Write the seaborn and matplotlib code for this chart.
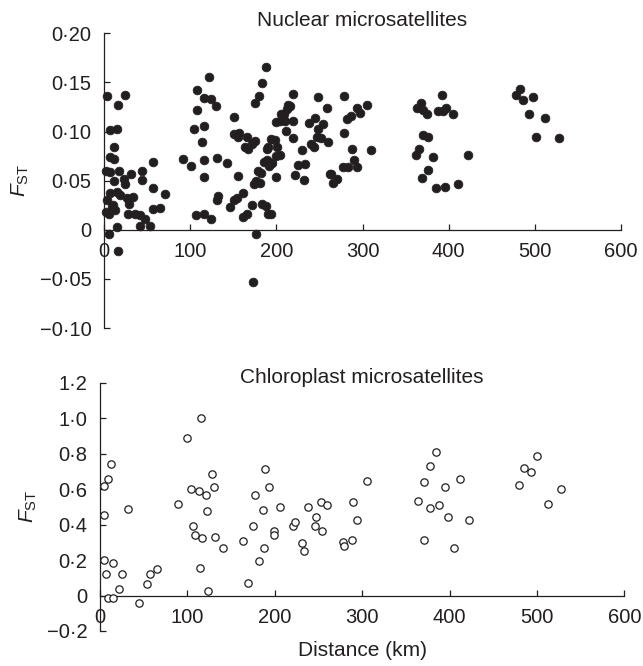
import pandas as pd
import seaborn as sns
import matplotlib.pyplot as plt
from matplotlib.ticker import FuncFormatter

# nuclear microsatellites: pairwise distance (km) vs Fst
nuc_dist = [3.9, 16.6, 24.4, 7, 14.7, 11.6, 2.3, 7, 11.6, 7, 11.6, 17.8, 23, 31, 24.4,
            43.7, 43.7, 57, 57, 70.8, 7, 14.7, 18.6, 26.3, 33.3, 29.4, 3.9, 8.9, 12.8,
            2.3, 6.2, 10.8, 28.2, 36, 41.8, 47.6, 57, 65, 14.7, 41.8, 53.4, 5.8, 16.6,
            91.3, 100.6, 104.8, 108.3, 108.3, 116, 113.3, 116, 116, 106.8, 116, 123.8,
            121.9, 116, 123.8, 130, 131.5, 132.7, 131.5, 142.4, 146.2, 150.9, 154.7,
            150.9, 157.1, 156, 151.3, 156, 161.7, 160.9, 165.6, 166.4, 163.7, 167.5,
            172.2, 175.2, 171.4, 174.1, 176.4, 179.1, 181.8, 175.2, 179.9, 183, 187.6,
            176.4, 173.3, 181, 183, 187.6, 190, 193.4, 185.7, 188.8, 191.9, 194.6,
            188.8, 190.7, 193.4, 198.5, 200.4, 199.6, 204.3, 199.6, 199.6, 204.3,
            205.1, 209, 212.1, 213.2, 216, 219, 210.5, 211.7, 219, 219.8, 221.7, 224.8,
            233.3, 230.2, 232.1, 238.3, 244.9, 248.8, 258.5, 239.8, 243.7, 246.8,
            248.8, 251.5, 253.8, 260.4, 262.3,
            278.5, 278.5, 281.6, 286.6, 294, 297.1, 305.6, 288.2, 309.9, 290.1, 293.2,
            277, 283.5, 263.4, 266.1, 270.8,
            362.9, 367.5, 370.6, 375.2, 392.6, 388, 396.9, 394, 404.6, 370.6, 376.4,
            365.6, 361.7, 381.5, 422.1, 376.4, 369.4, 384.9, 395.7, 411.2,
            482.8, 477.8, 485.9, 498.2, 493.6, 512.2, 501.3, 527.6]
nuc_fst = [0.136, 0.127, 0.137, 0.102, 0.103, 0.084, 0.060, 0.059, 0.072, 0.074, 0.050,
           0.060, 0.052, 0.057, 0.047, 0.060, 0.051, 0.069, 0.043, 0.036, 0.037, 0.038,
           0.035, 0.032, 0.033, 0.026, 0.030, 0.023, 0.020, 0.018, 0.016, 0.025, 0.016,
           0.016, 0.015, 0.011, 0.021, 0.022, 0.003, 0.004, 0.004, -0.004, -0.022,
           0.072, 0.065, 0.103, 0.142, 0.122, 0.106, 0.089, 0.071, 0.054, 0.015, 0.016,
           0.011, 0.156, 0.134, 0.133, 0.126, 0.073, 0.034, 0.030, 0.068, 0.023, 0.030,
           0.032, 0.097, 0.099, 0.094, 0.115, 0.055, 0.037, 0.013, 0.016, 0.094, 0.084,
           0.082, 0.087, 0.090, 0.025, 0.047, 0.050, 0.060, 0.058, 0.129, 0.136, 0.149,
           0.166, -0.004, -0.053, 0.048, 0.026, 0.024, 0.016, 0.016, 0.069, 0.071,
           0.065, 0.068, 0.082, 0.084, 0.092, 0.091, 0.084, 0.075, 0.076, 0.054, 0.110,
           0.111, 0.118, 0.118, 0.123, 0.127, 0.126, 0.138, 0.111, 0.101, 0.111, 0.093,
           0.056, 0.066, 0.067, 0.081, 0.051, 0.109, 0.114, 0.135, 0.124, 0.087, 0.084,
           0.094, 0.103, 0.093, 0.108, 0.089, 0.057,
           0.136, 0.098, 0.113, 0.116, 0.124, 0.119, 0.127, 0.082, 0.081, 0.071, 0.064,
           0.064, 0.064, 0.057, 0.048, 0.052,
           0.124, 0.129, 0.122, 0.118, 0.137, 0.121, 0.124, 0.121, 0.118, 0.096, 0.094,
           0.082, 0.076, 0.074, 0.076, 0.061, 0.053, 0.043, 0.044, 0.047,
           0.143, 0.137, 0.132, 0.135, 0.118, 0.114, 0.094, 0.093]

# chloroplast microsatellites
chl_dist = [5, 8.8, 12.2, 5, 5, 6.9, 15.3, 9.5, 14.5, 22.1, 25.6, 32.4, 45, 53.4, 56.8,
            64.8, 88.9, 99.9, 104.1, 106, 108.3, 113.3, 116.7, 114.4, 115.6, 121.3,
            122.1, 123.6, 128.5, 130.1, 132, 141.1, 163.6, 169.3, 175.1, 177, 182.3,
            187, 187.4, 188.8, 193.7, 199.5, 199.5, 206, 220.4, 223.1, 231.4, 233.4,
            238.4, 246.8, 246, 252.5, 253.7, 260.1,
            277.7, 279.6, 287.9, 289.9, 293.7, 305.5, 363.5, 370.3, 370.3, 377.2, 384,
            377.2, 387.5, 394.3, 397.7, 411.5, 404.6, 422.6, 479, 485.5, 493.5, 500.4,
            513, 527.8]
chl_fst = [0.618, 0.657, 0.740, 0.452, 0.203, 0.119, 0.183, -0.015, -0.015, 0.036, 0.119,
           0.488, -0.040, 0.064, 0.119, 0.147, 0.518, 0.891, 0.603, 0.390, 0.339, 0.589,
           0.326, 0.154, 1.002, 0.569, 0.478, 0.028, 0.686, 0.612, 0.330, 0.267, 0.305,
           0.072, 0.390, 0.565, 0.194, 0.480, 0.269, 0.716, 0.612, 0.365, 0.341, 0.501,
           0.390, 0.412, 0.296, 0.250, 0.501, 0.443, 0.390, 0.529, 0.363, 0.512,
           0.303, 0.279, 0.315, 0.527, 0.427, 0.648, 0.535, 0.638, 0.313, 0.733, 0.808,
           0.492, 0.508, 0.610, 0.444, 0.659, 0.266, 0.424, 0.621, 0.721, 0.695, 0.789,
           0.518, 0.603]

nuc = pd.DataFrame({"dist": nuc_dist, "fst": nuc_fst})
chl = pd.DataFrame({"dist": chl_dist, "fst": chl_fst})

sns.set_style("ticks")
plt.rcParams["font.family"] = ["Liberation Sans", "DejaVu Sans"]
plt.rcParams["mathtext.fontset"] = "custom"
plt.rcParams["mathtext.rm"] = "Liberation Sans"
plt.rcParams["mathtext.it"] = "Liberation Sans:italic"

ink = "#231f20"

fig = plt.figure(figsize=(6.43, 6.66), dpi=100)
ax1 = fig.add_axes([104 / 643, 1 - 328 / 666, 517 / 643, 294.7 / 666])
ax2 = fig.add_axes([100 / 643, 1 - 631 / 666, 524.3 / 643, 248.3 / 666])

sns.scatterplot(x="dist", y="fst", data=nuc, ax=ax1, color=ink, edgecolor=ink,
                s=40, linewidth=0.5, zorder=3, clip_on=False)
sns.scatterplot(x="dist", y="fst", data=chl, ax=ax2, facecolor="white", edgecolor=ink,
                s=28, linewidth=0.9, zorder=3, clip_on=False)


def dot_fmt(nd):
    def f(v, pos):
        if abs(v) < 1e-9:
            return "0"
        return f"{v:.{nd}f}".replace(".", "\u00b7").replace("-", "\u2212")
    return FuncFormatter(f)


for ax, yl, yt, nd in [(ax1, (-0.10, 0.20), [-0.10, -0.05, 0, 0.05, 0.10, 0.15, 0.20], 2),
                       (ax2, (-0.2, 1.2), [-0.2, 0, 0.2, 0.4, 0.6, 0.8, 1.0, 1.2], 1)]:
    ax.set_xlim(0, 600)
    ax.set_ylim(*yl)
    ax.set_xticks([0, 100, 200, 300, 400, 500, 600])
    ax.set_yticks(yt)
    ax.yaxis.set_major_formatter(dot_fmt(nd))
    ax.spines["top"].set_visible(False)
    ax.spines["right"].set_visible(False)
    ax.spines["bottom"].set_position(("data", 0))
    for sp in ("left", "bottom"):
        ax.spines[sp].set_color(ink)
        ax.spines[sp].set_linewidth(0.9)
    ax.tick_params(direction="in", length=4.5, width=0.9, color=ink,
                   labelsize=14.5, labelcolor=ink, pad=9)
    ax.set_xlabel("")
    ax.set_ylabel(r"$F_{\mathrm{ST}}$", fontsize=15, color=ink, labelpad=6)
    ax.patch.set_alpha(0)

ax1.text(0.5, 1.045, "Nuclear microsatellites", transform=ax1.transAxes,
         ha="center", va="center", fontsize=15, color=ink)
ax2.text(0.5, 1.019, "Chloroplast microsatellites", transform=ax2.transAxes,
         ha="center", va="center", fontsize=15, color=ink)
fig.text(362 / 643, 1 - 650 / 666, "Distance (km)", ha="center", va="center",
         fontsize=15, color=ink)

fig.savefig("out.png", dpi=100)
